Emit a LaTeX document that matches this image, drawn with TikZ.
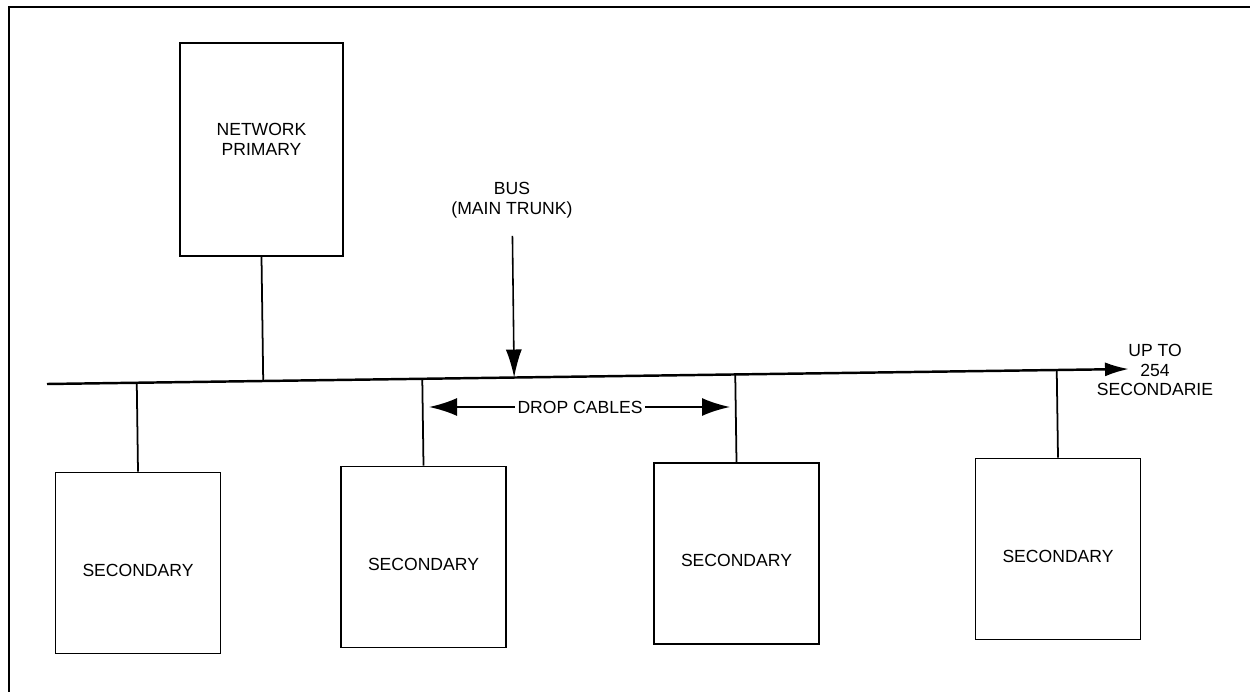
\documentclass[tikz,border=0pt]{standalone}
\usepackage{fontspec}
\setmainfont{Liberation Sans}
\usetikzlibrary{arrows.meta, calc}

\begin{document}
\begin{tikzpicture}[
  x=0.02cm, y=-0.02cm,
  unit/.style={rectangle, draw=black, line width=1pt, minimum width=3.3cm,
               minimum height=3.62cm, align=center, font=\fontsize{10}{11.3}\selectfont},
  secbox/.style={unit, text height=15.2pt, text depth=0pt},
  lbl/.style={align=center, inner sep=1.5pt, font=\fontsize{10}{11.3}\selectfont},
  arr/.style={-{Latex[length=0.56cm,width=0.36cm]}, line width=1.2pt},
  wire/.style={line width=1pt}
]
\useasboundingbox (0,0) rectangle (1250,692);
\draw[line width=1.4pt] (9,692) -- (9,7) -- (1250,7);

\node[unit, minimum width=3.26cm, minimum height=4.26cm] (primary) at (261.5,149.5)
  {\raisebox{1.8pt}[11.3pt][11.3pt]{\begin{tabular}{@{}c@{}}NETWORK\\PRIMARY\end{tabular}}};
\node[secbox] (sec1) at (138,563)     {SECONDARY};
\node[secbox] (sec2) at (423.5,557)   {SECONDARY};
\node[secbox] (sec3) at (736.5,553.5) {SECONDARY};
\node[secbox] (sec4) at (1058,549)    {SECONDARY};

% main trunk
\coordinate (busL) at (47,384);
\coordinate (busR) at (1129,369);
\draw[arr, line width=1.4pt, -{Latex[length=0.48cm,width=0.28cm]}] (busL) -- (busR);
\node[lbl] (upto) at (1155,370) {UP TO\\254\\SECONDARIE};

% drops onto the trunk
\coordinate (tap0) at ($(busL)!(primary.south)!(busR)$);
\coordinate (tap1) at ($(busL)!(sec1.north)!(busR)$);
\coordinate (tap2) at ($(busL)!(sec2.north)!(busR)$);
\coordinate (tap3) at ($(busL)!(sec3.north)!(busR)$);
\coordinate (tap4) at ($(busL)!(sec4.north)!(busR)$);
\draw[wire] (primary.south) -- (tap0);
\draw[wire] (sec1.north) -- (tap1);
\draw[wire] (sec2.north) -- (tap2);
\draw[wire] (sec3.north) -- (tap3);
\draw[wire] (sec4.north) -- (tap4);

% labels
\node[lbl] (buslbl) at (512,200) {BUS\\(MAIN TRUNK)};
\coordinate (bustap) at ($(busL)!(buslbl.south)!(busR)$);
\draw[arr, line width=0.9pt, -{Latex[length=0.56cm,width=0.32cm]}, shorten <=0.3cm] (buslbl) -- (bustap);

\node[lbl] (droplbl) at (580,407) {DROP CABLES};
\coordinate (dropL) at (429,407);
\coordinate (dropR) at (730,407);
\draw[arr] (droplbl) -- (dropL);
\draw[arr] (droplbl) -- (dropR);

\end{tikzpicture}
\end{document}
